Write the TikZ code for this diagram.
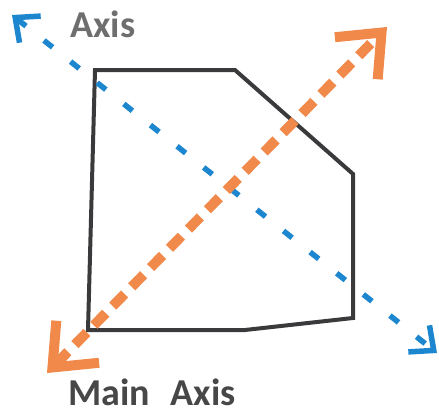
\documentclass[tikz,border=0pt]{standalone}
\usepackage{fontspec}
\setmainfont{Carlito}
\usetikzlibrary{arrows.meta}
\definecolor{axorange}{HTML}{F0894A}
\definecolor{axblue}{HTML}{1C86CF}
\definecolor{shapegray}{HTML}{3A3A3C}
\definecolor{toplabel}{HTML}{6E6E6E}
\definecolor{botlabel}{HTML}{474747}
\begin{document}
\begin{tikzpicture}[x=1pt,y=-1pt,
  outline/.style={draw=shapegray,line width=4pt,line join=miter},
  mainaxis/.style={draw=axorange,line width=10pt,dash pattern=on 17pt off 10pt,
    {Straight Barb[length=36pt,width=60pt,line width=10pt]}-{Straight Barb[length=36pt,width=60pt,line width=10pt]}},
  secaxis/.style={draw=axblue,line width=5.5pt,dash pattern=on 11pt off 23pt,
    {Straight Barb[length=19pt,width=34pt,line width=5.5pt]}-{Straight Barb[length=19pt,width=34pt,line width=5.5pt]}},
  lbl/.style={font=\fontsize{38}{38}\selectfont\bfseries,inner sep=0pt}]
\useasboundingbox (0,0) rectangle (439,415);
% polygon corners
\coordinate (p1) at (95,70);
\coordinate (p2) at (235,70);
\coordinate (p3) at (353,174);
\coordinate (p4) at (353,318);
\coordinate (p5) at (245,330);
\coordinate (p6) at (88,330);
\draw[outline] (p1) -- (p2) -- (p3) -- (p4) -- (p5) -- (p6) -- cycle;
% axes end points
\coordinate (oa) at (47,373);
\coordinate (ob) at (387,27);
\coordinate (ba) at (12,15);
\coordinate (bb) at (437,353);
\draw[secaxis] (ba) -- (bb);
\draw[mainaxis] (oa) -- (ob);
% labels
\node[lbl,text=toplabel,anchor=base west] (axislbl) at (70,37) {Axis};
\node[lbl,text=botlabel,anchor=base west] (mainlbl) at (68,405) {Main\hspace{21pt}Axis};
\end{tikzpicture}
\end{document}
